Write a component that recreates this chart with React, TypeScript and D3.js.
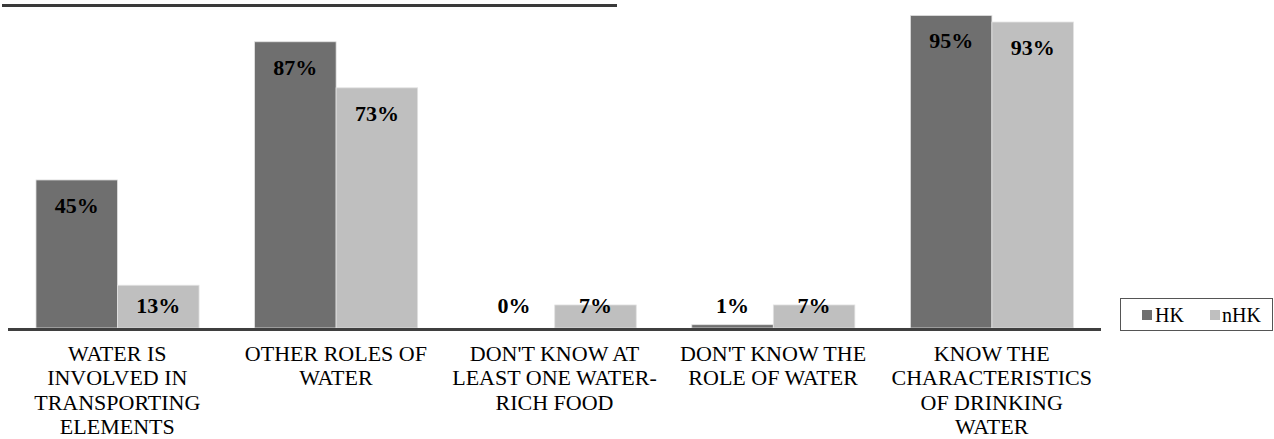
import React from "react";
import * as d3 from "d3";

const categories: string[][] = [
  ["WATER IS", "INVOLVED IN", "TRANSPORTING", "ELEMENTS"],
  ["OTHER ROLES OF", "WATER"],
  ["DON'T KNOW AT", "LEAST ONE WATER-", "RICH FOOD"],
  ["DON'T KNOW THE", "ROLE OF WATER"],
  ["KNOW THE", "CHARACTERISTICS", "OF DRINKING", "WATER"],
];
const seriesNames = ["HK", "nHK"];
const hkValues = [45, 87, 0, 1, 95];
const nhkValues = [13, 73, 7, 7, 93];
const seriesColors = ["#6f6f6f", "#bfbfbf"];

const W = 1274;
const H = 439;
const FONT = "Liberation Serif, Times New Roman, Tinos, DejaVu Serif, serif";
const tStyle = { fontFamily: FONT };

export default function App() {
  const idx = categories.map((_, i) => String(i));
  const x = d3.scaleBand<string>().domain(idx).range([8, 1101]).padding(0);
  const bw = x.bandwidth();
  const inner = d3
    .scaleBand<string>()
    .domain(seriesNames)
    .range([bw * 0.128, bw * 0.874])
    .padding(0);
  const y = d3.scaleLinear().domain([0, 100]).range([328, -1]);
  const series = [hkValues, nhkValues];

  return (
    <svg
      width={W}
      height={H}
      style={{ position: "absolute", left: 0, top: 0, background: "#fff", fontFamily: FONT }}
    >
      <line x1={2} x2={617} y1={5.5} y2={5.5} stroke="#3a3a3a" strokeWidth={3} />
      {categories.map((_, i) =>
        seriesNames.map((s, j) => {
          const v = series[j][i];
          const x0 = (x(String(i)) as number) + (inner(s) as number);
          const yTop = y(v);
          return (
            <g key={`${i}-${j}`}>
              {v > 0 && (
                <rect
                  x={x0}
                  y={yTop}
                  width={inner.bandwidth()}
                  height={y(0) - yTop}
                  fill={seriesColors[j]}
                  stroke="#e2e2e2"
                  strokeWidth={0.8}
                />
              )}
            </g>
          );
        })
      )}
      <line x1={8} x2={1101} y1={329.5} y2={329.5} stroke="#3f3f3f" strokeWidth={3} />
      {categories.map((_, i) =>
        seriesNames.map((s, j) => {
          const v = series[j][i];
          const cx = (x(String(i)) as number) + (inner(s) as number) + inner.bandwidth() / 2;
          const ty = Math.min(y(v) + 33, y(0) - 15);
          return (
            <text
              key={`l${i}-${j}`}
              x={cx}
              y={ty}
              textAnchor="middle"
              fontSize={22}
              fontWeight="bold"
              fill="#000"
              style={tStyle}
            >
              {`${v}%`}
            </text>
          );
        })
      )}
      {categories.map((lines, i) => {
        const cx = (x(String(i)) as number) + bw / 2;
        return (
          <text key={`c${i}`} x={cx} y={361} textAnchor="middle" fontSize={22} fill="#000" style={tStyle}>
            {lines.map((ln, k) => (
              <tspan key={k} x={cx} y={361 + k * 24.4}>
                {ln}
              </tspan>
            ))}
          </text>
        );
      })}
      <g>
        <rect x={1120.5} y={298.5} width={152} height={32} fill="#fff" stroke="#555" strokeWidth={1} />
        <rect x={1142} y={310} width={10} height={10} fill={seriesColors[0]} />
        <text x={1155} y={322} fontSize={20} fill="#000" style={tStyle}>
          {seriesNames[0]}
        </text>
        <rect x={1210} y={310} width={10} height={10} fill={seriesColors[1]} />
        <text x={1222} y={322} fontSize={20} fill="#000" style={tStyle}>
          {seriesNames[1]}
        </text>
      </g>
    </svg>
  );
}
